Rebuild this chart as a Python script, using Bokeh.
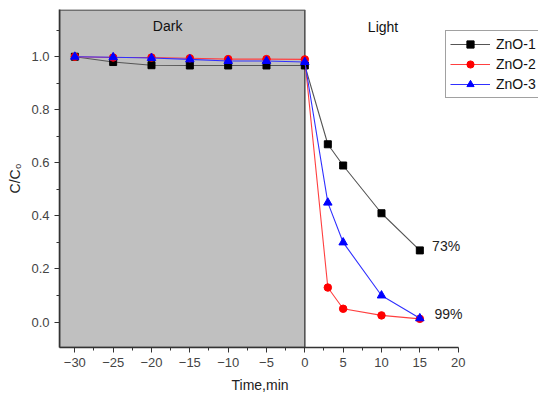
from bokeh.plotting import figure
from bokeh.models import (Range1d, FixedTicker, PrintfTickFormatter, Legend, LegendItem,
                          Label, ColumnDataSource, Title)
from bokeh.embed import file_html
from bokeh.resources import INLINE

time = [-30, -25, -20, -15, -10, -5, 0, 3, 5, 10, 15]
zno1 = [1.0, 0.98, 0.968, 0.967, 0.967, 0.967, 0.967, 0.67, 0.59, 0.41, 0.27]
zno2 = [1.0, 0.997, 0.997, 0.994, 0.991, 0.991, 0.99, 0.13, 0.05, 0.025, 0.012]
zno3 = [1.0, 0.998, 0.995, 0.99, 0.984, 0.984, 0.98, 0.45, 0.30, 0.10, 0.014]
series_names = ["ZnO-1", "ZnO-2", "ZnO-3"]
x_ticks = [-30, -25, -20, -15, -10, -5, 0, 5, 10, 15, 20]
y_ticks = [0.0, 0.2, 0.4, 0.6, 0.8, 1.0]
dark_window = (-32, 0)
annotations = [("73%", 16.6, 0.286), ("99%", 16.9, 0.03)]

FONT = "Liberation Sans"

p = figure(width=540, height=397, output_backend="svg", toolbar_location=None,
           x_range=Range1d(-32, 30.48), y_range=Range1d(-0.096, 1.178),
           min_border_left=59, min_border_right=2, min_border_top=9, min_border_bottom=10)
p.outline_line_color = None
p.xgrid.visible = False
p.ygrid.visible = False
p.background_fill_color = "white"

# dark (shaded) region
p.quad(left=[dark_window[0]], right=[dark_window[1]], bottom=[-0.096], top=[1.176],
       fill_color="#c0c0c0", line_color="#555555", line_width=1.6)

src = ColumnDataSource(dict(t=time, a=zno1, b=zno2, c=zno3))
l1 = p.line("t", "a", source=src, line_color="#555555", line_width=1.1)
m1 = p.scatter("t", "a", source=src, marker="square", size=7, fill_color="black", line_color="black")
l2 = p.line("t", "b", source=src, line_color="#ff4040", line_width=1.1)
m2 = p.scatter("t", "b", source=src, marker="circle", size=7.5, fill_color="red", line_color="red")
l3 = p.line("t", "c", source=src, line_color="#3030ff", line_width=1.1)
m3 = p.scatter("t", "c", source=src, marker="triangle", size=8.5, fill_color="blue", line_color="blue")

legend = Legend(items=[LegendItem(label=series_names[0], renderers=[l1, m1]),
                       LegendItem(label=series_names[1], renderers=[l2, m2]),
                       LegendItem(label=series_names[2], renderers=[l3, m3])],
                location=(386, 249))
legend.border_line_color = "#444444"
legend.border_line_width = 1.5
legend.label_text_font = FONT
legend.label_text_font_size = "14px"
legend.label_text_color = "#111111"
legend.glyph_width = 40
legend.glyph_height = 18
legend.label_height = 18
legend.spacing = 2
legend.padding = 4
legend.margin = 0
legend.label_standoff = 6
legend.background_fill_alpha = 1
p.add_layout(legend)

# axes
xa = p.xaxis[0]
xa.bounds = (-32, 20)
xa.ticker = FixedTicker(ticks=x_ticks, minor_ticks=[t + 2.5 for t in x_ticks[:-1]])
xa.major_label_overrides = {t: ("\u2212" + str(abs(t)) if t < 0 else str(t)) for t in x_ticks}
ya = p.yaxis[0]
ya.ticker = FixedTicker(ticks=y_ticks, minor_ticks=[0.1, 0.3, 0.5, 0.7, 0.9, 1.1])
ya.formatter = PrintfTickFormatter(format="%.1f")
ya.axis_label = "C/C\u2080"
ya.axis_label_text_font_style = "normal"
ya.axis_label_text_font = FONT
ya.axis_label_text_font_size = "14px"
ya.axis_label_text_color = "#222222"
ya.axis_label_standoff = 5
for ax in (xa, ya):
    ax.axis_line_color = "#333333"
    ax.axis_line_width = 1.6
    ax.major_tick_line_color = "#333333"
    ax.minor_tick_line_color = "#333333"
    ax.major_tick_out = 5
    ax.major_tick_in = 0
    ax.minor_tick_out = 3
    ax.minor_tick_in = 0
    ax.major_label_text_font = FONT
    ax.major_label_text_font_size = "13px"
    ax.major_label_text_color = "#444444"
    ax.major_label_standoff = 5

xtitle = Title(text="Time,min", align="left", offset=172, text_font=FONT, text_font_size="14px",
               text_font_style="normal", text_color="#222222", standoff=10)
p.add_layout(xtitle, "below")

p.add_layout(Label(x=-17.9, y=1.117, text="Dark", text_font=FONT, text_font_size="14px",
                   text_color="#111111", text_align="center", text_baseline="middle"))
p.add_layout(Label(x=10.2, y=1.113, text="Light", text_font=FONT, text_font_size="14px",
                   text_color="#111111", text_align="center", text_baseline="middle"))
for txt, ax_, ay_ in annotations:
    p.add_layout(Label(x=ax_, y=ay_, text=txt, text_font=FONT, text_font_size="14px",
                       text_color="#222222", text_align="left", text_baseline="middle"))

open("out.html", "w").write(file_html(p, INLINE))
